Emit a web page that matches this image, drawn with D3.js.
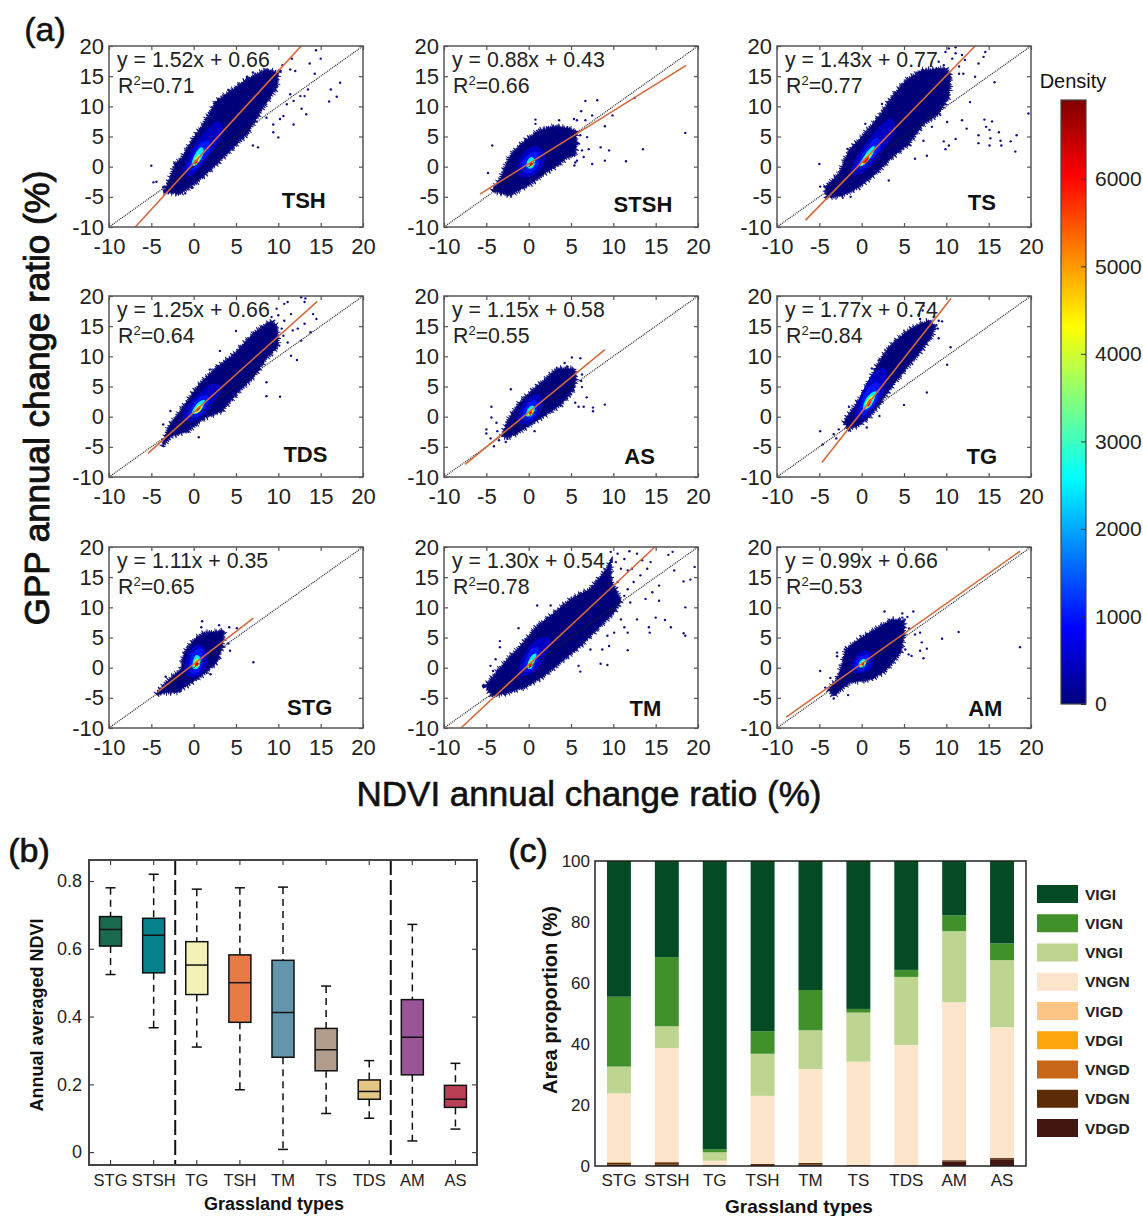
<!DOCTYPE html>
<html>
<head>
<meta charset="utf-8">
<script src="https://cdn.jsdelivr.net/npm/d3@7"></script>
<style>
body { margin: 0; background: #fff; }
text { font-family: "Liberation Sans", Arial, sans-serif; fill: #222; }
</style>
</head>
<body>
<svg id="chart"></svg>
<script>
// Panel (a): values, all in percent
const scatterTicks = [-10, -5, 0, 5, 10, 15, 20];
const panelNames = ["TSH", "STSH", "TS", "TDS", "AS", "TG", "STG", "TM", "AM"];
const equations = ["y = 1.52x + 0.66", "y = 0.88x + 0.43", "y = 1.43x + 0.77", "y = 1.25x + 0.66", "y = 1.15x + 0.58", "y = 1.77x + 0.74", "y = 1.11x + 0.35", "y = 1.30x + 0.54", "y = 0.99x + 0.66"];
const r2Values = ["0.71", "0.66", "0.77", "0.64", "0.55", "0.84", "0.65", "0.78", "0.53"];
const labelSpots = [[13, -6.9], [13.5, -7.5], [14.2, -7.2], [13.2, -7.5], [13.1, -7.9], [14.2, -7.9], [13.7, -7.9], [13.8, -8], [14.6, -8]];
const fitLines = [
    [[-6.9, -10], [12.7, 20]], [[-5.75, -4.55], [18.6, 16.8]], [[-6.65, -8.9], [13.4, 20]],
    [[-5.4, -6.1], [14.6, 19.1]], [[-7.5, -7.9], [9, 11.1]], [[-4.7, -7.6], [10.55, 19.6]],
    [[-4.25, -4], [7.05, 8.2]], [[-8, -10], [14.9, 20]], [[-8.9, -8.2], [18.7, 19.3]]
];

// Outline of the dense part of each cloud
const tshCloud = [[-3.2, -3.4], [-2.2, 0.4], [-1.4, 1.5], [0, 4.8], [1.1, 7], [2.7, 10.9], [4.3, 12.5], [6.3, 14.5], [8.6, 16.1], [10, 15.6], [9.8, 13.1], [8.2, 9.8], [6.3, 5.4], [4.7, 3.2], [2.3, -0.1], [0.35, -2.6], [-1.6, -4.5], [-3.6, -4.2]];
const stshCloud = [[-4.3, -4], [-3.3, -1.8], [-2.3, 1.6], [-1.3, 3.2], [-0.2, 4.6], [1.2, 6], [3, 6.7], [4.6, 6.4], [5.5, 6], [5.7, 3.8], [5.4, 1.8], [4.6, 1.6], [3.4, 0.2], [1.8, -1.2], [0.2, -2.9], [-1.3, -4], [-2.1, -4.8], [-3.5, -4.3]];
const tsCloud = [[-4.1, -5.1], [-4.3, -3.4], [-2.7, -1.2], [-1.5, 2.7], [0, 4.9], [2, 8.2], [3.6, 11.6], [5.2, 14.3], [7.1, 16], [9.9, 16.3], [10.5, 15.4], [10.3, 11.6], [9.1, 8.8], [7.1, 6.8], [5.6, 3.8], [3.6, 1.6], [1.6, -1.2], [-0.35, -3.4], [-2.3, -4.8]];
const tdsCloud = [[-3.7, -4.9], [-3, -1.8], [-1.45, 1.2], [0.5, 5.1], [2.5, 7.9], [4.8, 10.4], [7.2, 14], [9.2, 15.9], [9.8, 15.1], [10, 11.8], [8.4, 9.3], [7.2, 6.8], [5.2, 4], [3.3, 0.9], [1.3, -0.2], [-0.7, -2.4], [-2.6, -3.2]];
const asCloud = [[-3.1, -3.2], [-2.5, -0.7], [-1.1, 2.3], [0.6, 4.6], [2.2, 6.5], [3.4, 8], [5.35, 8], [5.6, 6.8], [5.35, 4.6], [3.8, 2], [1.8, 0.1], [0.2, -1.3], [-1.3, -2.7], [-2.5, -3.5]];
const tgCloud = [[-2.1, -1], [-1.5, 0.4], [0, 3.4], [0.8, 5.7], [1.8, 8.4], [3.2, 11.5], [5.2, 14], [6.5, 15.1], [7.9, 15.9], [8.7, 15.1], [8.3, 13.4], [6.9, 10.7], [5.2, 7.9], [3.6, 5.1], [2.2, 2.3], [1, 0.1], [-0.2, -1.3], [-1.5, -2.1]];
const stgCloud = [[-4.45, -4.4], [-3.1, -2.2], [-1.5, -0.3], [-1.1, 2.5], [0.1, 4.7], [1.25, 5.8], [3.6, 6.1], [3.4, 3.6], [2.8, 1.1], [1.45, -0.8], [-0.3, -2.5], [-1.9, -4], [-3.5, -4.2]];
const tmCloud = [[-5.1, -3.05], [-4.3, -4.7], [-2.5, -4.2], [-0.15, -3.05], [1.8, -1.4], [4.2, 1.4], [6.1, 3.6], [8.1, 6.4], [10.1, 9.2], [10.9, 11.1], [9.7, 14.7], [9.7, 17.5], [8.9, 15.8], [7.3, 13.1], [5, 11.4], [2.6, 8.6], [1, 6.9], [-0.95, 3.6], [-2.5, 1.4], [-4.5, -1.9]];
const amCloud = [[-3.9, -3.6], [-3.3, -4.7], [-1.5, -2.5], [1.2, -1.9], [2.8, -0.55], [4.6, 2.5], [5, 5.3], [5, 7.8], [3.6, 8], [2, 6.7], [0, 5], [-1.9, 3], [-2.3, 0.55], [-2.9, -1.9]];
const clouds = [tshCloud, stshCloud, tsCloud, tdsCloud, asCloud, tgCloud, stgCloud, tmCloud, amCloud];

// Loose points outside the outline
const tshPoints = [[-5, 0.15], [-4.75, -2.6], [-4.4, -2.5], [-3.6, -3.4], [-3.4, -4.2], [-1, -4.4], [-0.2, -3.5], [14.45, 19.3], [15, 17.9], [13.7, 17.1], [14.3, 15.4], [11.6, 17.9], [12, 15.85], [11.4, 16.1], [10.5, 16.8], [17.3, 13.9], [16.2, 12.8], [16.9, 11.6], [16, 10.8], [13.3, 8.7], [12.75, 9.6], [11.8, 7], [10.6, 8.4], [11.8, 10.9], [12.6, 11.7], [11, 10.35], [10, 4.85], [9.4, 5.7], [9.4, 7], [7.6, 3.2], [7, 3.5], [6, 5.7], [13.1, 11.7], [13.5, 12.8], [11.4, 12], [10.2, 7.9], [8.6, 8.1], [7, 15.6], [6.3, 14.9], [4.1, 12.7], [2.9, 11.2]];
const stshPoints = [[-4.3, 3.5], [-4.8, -1.05], [6.7, 10.9], [8.1, 11], [12.5, 11.4], [9.9, 8.5], [6.2, 9.2], [5.35, 7.9], [7.5, 8.5], [0.8, 7.8], [18.5, 5.6], [13.5, 2.9], [11.5, 0.9], [9.5, 2.7], [8.5, 3.2], [9, 1], [9, 6.7], [6.9, 4.9], [7.1, 2.9], [7.5, 0.45], [6.5, 1.6], [5.7, 1], [6.7, 7.7], [5.7, 7.7], [3.6, 7.7], [2.2, 6.4], [0.8, 7.1], [6.3, 2.7], [5.5, 0.7], [5.4, 0.2], [6.1, 5.2]];
const tsPoints = [[-5, 0.45], [-4.9, -3.3], [0.43, 7.1], [2.4, 10.4], [-1.3, -5], [6.3, 1.3], [7.7, 1.8], [3.2, -2.3], [11.85, 7.7], [12.4, 6.3], [14.5, 7.8], [15.4, 7.5], [14.7, 6.6], [15.1, 6.1], [16.2, 5.7], [15.2, 4.7], [16.4, 4.3], [17.6, 4.2], [18.3, 5.2], [18.15, 2.5], [16.5, 3.5], [15.1, 3.5], [13.8, 3.9], [13.8, 5.2], [11.1, 4.6], [10.3, 3.5], [9.7, 4.2], [9.9, 2.9], [10.1, 7.4], [12.8, 10.7], [15.7, 14], [13.8, 17.1], [14.6, 19], [14.4, 18.2], [13.4, 14.9], [12, 15.4], [11.5, 16.6], [10.3, 19.6], [11.1, 19.8], [9.9, 19], [10.7, 17.9], [12.2, 17.7], [11.85, 18.5], [9.1, 17.4], [11.5, 15.4], [11.1, 18.8], [9.7, 16.8], [19.7, 8.8], [8.3, 6.6], [7.3, 4.3]];
const tdsPoints = [[-2.75, 0.95], [-3.6, -1.3], [0.6, -3.4], [-0.75, -2.4], [5, 14.2], [3.1, 10.9], [1.9, 7.8], [8.6, 5.7], [8.6, 3.4], [10.2, 3.3], [11.5, 10.1], [12.2, 9.4], [12.7, 12.6], [13.8, 14], [14.5, 16.2], [14.1, 17], [13.1, 19], [12.7, 19.8], [13.2, 19.6], [11.1, 19], [10.7, 18.7], [9.8, 17.9], [10, 16.8], [10.7, 15.9], [11.5, 17], [12.3, 14.6], [13.1, 15.4], [11.7, 14.3], [9.2, 16.5], [8, 14.8], [8.6, 15.4], [10.4, 14.6], [10.6, 13.4], [11.1, 12.3]];
const asPoints = [[-2.1, 4.55], [-4.4, 1.65], [-4.4, -0.15], [-5, -2.1], [-5, -2.8], [-4.5, -3.6], [-4.1, -4.9], [-3.7, -2.4], [-3.8, -1], [-3.5, -3.9], [-2.7, -4.2], [0.7, -2.4], [9, 2], [7.6, 1.5], [7.6, 0.9], [6.85, 3.2], [6.5, 1.65], [5.9, 1.65], [5.5, 2.3], [5, 3.7], [6.3, 4.9], [6.2, 5.9], [6.3, 7], [4.25, 8.9], [5.1, 9.8], [6.1, 9.7], [4.6, 8.3]];
const tgPoints = [[-4.9, -2.4], [-4.6, -4.6], [-3.3, -2.9], [-2.7, -2.1], [-3, -3.6], [-1.5, 1.65], [1.2, 8], [2, 9.3], [3.6, 11.7], [5, 1.95], [7.7, 4], [10.1, 8.6], [10.5, 11.5], [9.1, 13], [9, 14.6], [9.5, 15.8], [9.1, 15.9], [8.5, 16.5], [6.9, 16.2], [6.7, 16.9], [7.3, 18.4], [7.2, 17.6], [2.1, 0.1], [0.6, -1.8]];
const stgPoints = [[7.05, 0.9], [1, 7.7], [0.9, 6.7], [3, 7.05], [4.2, 6.7], [5.1, 6.55], [4.1, 4], [4.3, 2.8], [-0.7, 3.5], [-3.3, -1.5], [-1.6, -3.9], [2, -1.1]];
const tmPoints = [[-3.4, 4.4], [-3.4, 3.4], [-3.9, 1.4], [-4.5, 0.3], [-4.2, -0.55], [1, 10.3], [2.6, 10.3], [-1.2, 6.55], [11.7, 2.9], [8.5, 0.65], [9.3, 0.45], [6.1, -0.65], [5.9, 0.3], [18.5, 10], [18.5, 5.3], [18.3, 5.7], [16.8, 6.7], [16.1, 7.9], [15.4, 11.1], [15, 8.3], [14.2, 6.7], [14.3, 5.8], [13.8, 11.4], [14.6, 12.5], [15.4, 13.6], [18.3, 14.3], [19.1, 14.6], [19.6, 16.7], [17.2, 16.1], [17, 19.2], [16.5, 18.7], [14.4, 17.5], [14, 16.4], [13.4, 17.8], [12.8, 18.9], [11.9, 19.3], [10.5, 18.9], [9.7, 19.2], [11.3, 18], [12.2, 16.4], [13.2, 15.3], [12.4, 14.2], [11.7, 13], [11.3, 11.9], [12, 10.8], [12.8, 8], [11.3, 6.7], [10.9, 8], [11.7, 5.8], [9.5, 3.6], [9.3, 5.3], [10.1, 5.8], [8.7, 3], [7.3, 3], [10.3, 17.5], [10.9, 16.4], [9.7, 15.8], [10.5, 14.2], [11.7, 16.1]];
const amPoints = [[-4.9, -0.55], [-3.7, -1.7], [-2.9, 2.5], [-2.9, 1.9], [2.7, 9.3], [4.8, 9], [4.8, 8.3], [5.4, 8.4], [6.1, 9.3], [5.6, 6.5], [6.3, 5.5], [6.9, 5.8], [7.1, 4.2], [7.7, 3.15], [6.9, 2.8], [7.3, 1.55], [9.5, 4.8], [11.45, 5.9], [18.7, 3.4], [5.9, 1.95], [5.55, 2.2], [5.15, 3], [-1.6, -4.55], [-3.3, -5.1], [-4.3, -3.3]];
const loosePoints = [tshPoints, stshPoints, tsPoints, tdsPoints, asPoints, tgPoints, stgPoints, tmPoints, amPoints];

// Hot centre of each cloud, one ring per density level
const heatLevels = [450, 1000, 2500, 4000, 6000];
const tshHeat = [[[-1.2, -1], [-0.8, 1.2], [0.2, 3.8], [1.5, 6], [3, 7.5], [3.5, 6], [2.2, 2.5], [0.8, 0], [-0.3, -1.5]], [[-0.8, -0.3], [-0.2, 1.5], [0.6, 3.6], [1.7, 4.3], [1.9, 2.6], [0.8, 0.4], [0, -0.6]], [[-0.2, 0.3], [0.1, 1.9], [0.9, 3.2], [1.2, 2.6], [0.7, 0.9], [0.1, 0.1]], [[0, 0.4], [0.15, 1.4], [0.7, 2], [0.7, 1.2], [0.3, 0.4]], [[0.05, 0.5], [0.15, 1.1], [0.45, 1.2], [0.4, 0.6]]];
const stshHeat = [[[-1.2, -1.5], [-1.2, 0.8], [-0.4, 2.6], [1, 3.4], [1.9, 2.2], [1.6, 0], [0.4, -1.6]], [[-0.7, -0.8], [-0.7, 0.8], [0, 2], [0.9, 2.5], [1.3, 1.3], [1, -0.1], [0.2, -1]], [[-0.2, -0.2], [-0.2, 0.8], [0.3, 1.6], [0.7, 1.2], [0.7, 0.3], [0.3, -0.3]], [[0, 0.05], [0, 0.7], [0.3, 1], [0.55, 0.7], [0.5, 0.2], [0.2, -0.05]], [[0.1, 0.2], [0.1, 0.6], [0.3, 0.8], [0.45, 0.55], [0.35, 0.2]]];
const tsHeat = [[[-1.2, -1.2], [-0.8, 1.2], [0.5, 3.8], [2, 6.5], [3.5, 8], [4, 6.5], [2.8, 3.2], [1.2, 0.3], [-0.2, -1.2]], [[-0.6, -0.3], [-0.2, 1.3], [0.7, 3.3], [1.8, 4.8], [2.3, 4], [1.7, 2], [0.6, 0.2], [-0.1, -0.4]], [[-0.3, 0.2], [0.1, 1.3], [0.9, 2.9], [1.5, 3.4], [1.4, 2.3], [0.6, 0.7], [0, 0.1]], [[-0.1, 0.3], [0.2, 1.2], [0.9, 2.3], [1.2, 2.4], [0.9, 1.4], [0.3, 0.4]], [[0.1, 0.6], [0.3, 1.2], [0.8, 1.8], [0.85, 1.4], [0.4, 0.6]]];
const tdsHeat = [[[-1.2, -0.5], [-0.8, 1.6], [0.6, 3.8], [2.3, 5.5], [3.2, 5], [2.6, 2.8], [1.2, 0.3], [-0.2, -0.8]], [[-0.6, 0.1], [-0.2, 1.7], [0.7, 3.2], [1.6, 3.6], [1.8, 2.6], [1, 0.6], [0, -0.2]], [[-0.2, 0.5], [0.1, 1.6], [0.8, 2.6], [1.3, 2.7], [1.1, 1.6], [0.5, 0.6]], [[0, 0.7], [0.3, 1.5], [0.9, 2.1], [1, 1.6], [0.5, 0.7]], [[0.2, 0.9], [0.4, 1.4], [0.8, 1.8], [0.75, 1.3], [0.4, 0.9]]];
const asHeat = [[[-1.3, -1], [-1.1, 0.9], [-0.2, 2.8], [1, 3.7], [1.7, 2.6], [1.2, 0.4], [0, -1.1]], [[-0.8, -0.4], [-0.6, 1], [0.1, 2.4], [0.9, 2.6], [1, 1.4], [0.6, 0], [-0.1, -0.6]], [[-0.3, 0.1], [-0.2, 1], [0.3, 1.8], [0.7, 1.6], [0.6, 0.6], [0.2, 0]], [[-0.1, 0.2], [0, 0.9], [0.4, 1.4], [0.55, 1.1], [0.4, 0.4]], [[0.05, 0.4], [0.1, 0.9], [0.4, 1.1], [0.4, 0.7], [0.25, 0.4]]];
const tgHeat = [[[-0.8, -0.2], [-0.5, 2.2], [0.4, 5], [1.6, 7.5], [2.8, 8], [3, 6], [2.2, 3], [1.1, 0.6], [0, -0.5]], [[-0.2, 0.6], [0, 2.6], [0.7, 4.6], [1.8, 5.8], [2.2, 4.6], [1.8, 2.6], [0.9, 0.9], [0.2, 0.2]], [[0.2, 1.2], [0.4, 2.7], [1.1, 3.9], [1.7, 4.2], [1.5, 2.9], [0.9, 1.5]], [[0.4, 1.5], [0.6, 2.6], [1.1, 3.4], [1.45, 3.4], [1.1, 2.3], [0.7, 1.5]], [[0.6, 1.8], [0.8, 2.6], [1.15, 3], [1.1, 2.3], [0.8, 1.7]]];
const stgHeat = [[[-0.9, -1.2], [-1, 0.9], [-0.4, 3], [0.8, 3.9], [1.6, 2.4], [1.4, 0], [0.3, -1.5]], [[-0.4, -0.7], [-0.5, 1], [0, 2.7], [0.9, 3.2], [1.1, 1.6], [0.9, 0], [0.2, -1]], [[-0.1, -0.1], [-0.1, 1], [0.3, 2.1], [0.7, 1.8], [0.8, 0.7], [0.4, -0.2]], [[0.05, 0.1], [0.05, 0.9], [0.4, 1.5], [0.65, 1.1], [0.6, 0.4], [0.3, 0.05]], [[0.15, 0.3], [0.2, 0.9], [0.45, 1.1], [0.55, 0.7], [0.35, 0.3]]];
const tmHeat = [[[-1.1, -1.1], [-0.9, 1], [0, 3.4], [1.5, 5], [2.5, 4.8], [2, 2], [0.9, -0.4], [-0.2, -1.3]], [[-0.6, -0.5], [-0.4, 1.2], [0.3, 3], [1.1, 3.4], [1.1, 1.8], [0.6, -0.1], [-0.1, -0.7]], [[-0.15, -0.1], [-0.05, 1], [0.5, 2.2], [0.9, 2.3], [0.7, 1], [0.25, -0.2]], [[-0.05, 0], [0, 0.8], [0.4, 1.4], [0.45, 0.6], [0.2, 0]], [[0.05, 0.1], [0.1, 0.7], [0.35, 0.8], [0.3, 0.2]]];
const amHeat = [[[-1.1, -0.8], [-1.1, 0.9], [-0.4, 2.3], [0.8, 2.8], [1.4, 1.6], [1, -0.3], [-0.2, -0.9]], [[-0.7, -0.3], [-0.7, 0.9], [-0.1, 1.8], [0.7, 2.1], [0.9, 1.1], [0.5, -0.1], [-0.1, -0.5]], [[-0.3, 0.1], [-0.3, 0.8], [0.1, 1.4], [0.5, 1.3], [0.5, 0.5], [0.1, 0]], [[-0.15, 0.2], [-0.1, 0.8], [0.2, 1.15], [0.4, 0.9], [0.3, 0.4]], [[0, 0.35], [0, 0.8], [0.25, 0.95], [0.3, 0.6], [0.15, 0.35]]];
const heats = [tshHeat, stshHeat, tsHeat, tdsHeat, asHeat, tgHeat, stgHeat, tmHeat, amHeat];

const densityTicks = [0, 1000, 2000, 3000, 4000, 5000, 6000];
const jetColors = ["#00007f", "#0000ff", "#00ffff", "#ffff00", "#ff0000", "#7f0000"];
const jetStops = [0, 0.125, 0.375, 0.625, 0.875, 1];

// Panel (b): whisker low, q1, median, q3, whisker high
const boxTypes = ["STG", "STSH", "TG", "TSH", "TM", "TS", "TDS", "AM", "AS"];
const boxLow = [0.524, 0.367, 0.31, 0.184, 0.008, 0.114, 0.1, 0.033, 0.068];
const boxQ1 = [0.608, 0.529, 0.465, 0.383, 0.28, 0.24, 0.156, 0.228, 0.132];
const boxMedian = [0.657, 0.64, 0.552, 0.5, 0.412, 0.302, 0.179, 0.339, 0.156];
const boxQ3 = [0.695, 0.69, 0.621, 0.582, 0.566, 0.365, 0.213, 0.45, 0.197];
const boxHigh = [0.78, 0.82, 0.776, 0.78, 0.782, 0.49, 0.27, 0.672, 0.262];
const boxColors = ["#1b6a50", "#05818c", "#f3f1b8", "#e87b45", "#6396ad", "#b29c8b", "#e3c686", "#9a5598", "#b83f55"];
const boxTicks = [0, 0.2, 0.4, 0.6, 0.8];

// Panel (c): stacked from the bottom up, in percent
const stackKeys = ["VDGD", "VDGN", "VNGD", "VDGI", "VIGD", "VNGN", "VNGI", "VIGN", "VIGI"];
const legendKeys = ["VIGI", "VIGN", "VNGI", "VNGN", "VIGD", "VDGI", "VNGD", "VDGN", "VDGD"];
const stackColors = ["#431710", "#5c2c08", "#c8661a", "#ffa60f", "#fdc586", "#fde5cc", "#bdd591", "#41902c", "#034a25"];
const vdgd = [0.5, 0.5, 0.05, 0.3, 0.5, 0.1, 0.05, 1.5, 2.2];
const vdgn = [0.5, 0.7, 0.1, 0.4, 0.5, 0.2, 0.05, 0.4, 0.4];
const vngd = [0.2, 0.2, 0.05, 0, 0, 0, 0, 0, 0];
const vdgi = [0, 0, 0, 0, 0, 0, 0, 0, 0];
const vigd = [0.1, 0, 0, 0, 0, 0, 0, 0, 0];
const vngn = [22.5, 37.3, 1.55, 22.3, 30.8, 33.9, 39.6, 51.8, 42.9];
const vngi = [8.8, 7.1, 2.75, 13.8, 12.7, 16.1, 22.3, 23.3, 22];
const vign = [22.9, 22.7, 1, 7.4, 13.2, 1.2, 2.3, 5.2, 5.5];
const vigi = [44.5, 31.5, 94.5, 55.8, 42.3, 48.5, 35.7, 17.8, 27];
const stackTicks = [0, 20, 40, 60, 80, 100];

const width = 1143;
const height = 1216;
const svg = d3.select("#chart").attr("width", width).attr("height", height);
const defs = svg.append("defs");
defs.append("filter").attr("id", "soft").append("feGaussianBlur").attr("stdDeviation", 0.4);
defs.append("filter").attr("id", "softer").attr("x", "-50%").attr("y", "-50%").attr("width", "200%").attr("height", "200%")
    .append("feGaussianBlur").attr("stdDeviation", 0.5);

const densityColor = d3.scaleLinear()
    .domain(jetStops.map(d => d * 6900))
    .range(jetColors);

// Inward ticks on all four sides plus the frame
const drawFrame = (g, x, y, xTicks, yTicks, opts) => {
    const [x0, x1] = x.range();
    const [y0, y1] = y.range();
    const axes = [
        [d3.axisBottom(x).tickValues(xTicks), y0, 0, opts.xPadding, opts.xFormat],
        [d3.axisTop(x).tickValues(xTicks).tickFormat(""), y1, 0, 0, null],
        [d3.axisLeft(y).tickValues(yTicks), 0, x0, opts.yPadding, opts.yFormat],
        [d3.axisRight(y).tickValues(yTicks).tickFormat(""), 0, x1, 0, null]
    ];
    axes.forEach(([axis, ty, tx, padding, format]) => {
        if (format) axis.tickFormat(format);
        g.append("g")
            .attr("transform", `translate(${tx},${ty})`)
            .call(axis.tickSize(-opts.tick).tickPadding(padding))
            .call(a => a.select(".domain").remove())
            .call(a => a.selectAll(".tick line").attr("stroke", opts.color).attr("stroke-width", 1.2))
            .call(a => a.selectAll(".tick text").style("font-family", "Liberation Sans").attr("fill", "#222"));
    });
    g.append("rect")
        .attr("x", x0).attr("y", y1)
        .attr("width", x1 - x0).attr("height", y0 - y1)
        .attr("fill", "none")
        .attr("stroke", opts.color)
        .attr("stroke-width", opts.frame);
};

// Scatter panels
const columnLeft = [109, 444, 777];
const rowTop = [46, 296, 547];
const plotWidth = 254;
const plotHeight = 181;

const cloudLine = d3.line().curve(d3.curveLinearClosed);
const heatLine = d3.line().curve(d3.curveCatmullRomClosed);
// Wider, sparser strokes break up the edge of the cloud
const fringes = [
    { width: 6.5, dash: "0.9 5.3 1.1 3.1 0.8 7.1" },
    { width: 4, dash: "1 2.3 1.3 1.1 0.9 3.7" },
    { width: 2, dash: "1.4 0.9" }
];

panelNames.forEach((name, i) => {
    const left = columnLeft[i % 3];
    const top = rowTop[Math.floor(i / 3)];
    const x = d3.scaleLinear([-10, 20], [left, left + plotWidth]);
    const y = d3.scaleLinear([-10, 20], [top + plotHeight, top]);
    const g = svg.append("g");

    const marks = g.append("g").attr("filter", "url(#soft)");
    const project = pts => pts.map(d => [x(d[0]), y(d[1])]);

    marks.append("path")
        .attr("d", cloudLine(project(clouds[i])))
        .attr("fill", "#00007a");

    marks.selectAll("path.fringe")
        .data(fringes)
        .join("path")
        .attr("class", "fringe")
        .attr("d", cloudLine(project(clouds[i])))
        .attr("fill", "none")
        .attr("stroke", "#0a0a80")
        .attr("stroke-width", d => d.width)
        .attr("stroke-dasharray", d => d.dash);

    marks.selectAll("circle")
        .data(loosePoints[i])
        .join("circle")
        .attr("cx", d => x(d[0]))
        .attr("cy", d => y(d[1]))
        .attr("r", 1.2)
        .attr("fill", "#10108a");

    g.append("g").attr("filter", "url(#softer)")
        .selectAll("path")
        .data(heats[i])
        .join("path")
        .attr("d", d => heatLine(project(d)))
        .attr("fill", (d, j) => densityColor(heatLevels[j]));

    // 1:1 reference
    g.append("path")
        .attr("d", d3.line()([[x(-10), y(-10)], [x(20), y(20)]]))
        .attr("stroke", "#222")
        .attr("stroke-width", 1.2)
        .attr("stroke-dasharray", "1 1")
        .attr("fill", "none");

    g.append("path")
        .attr("d", d3.line()(project(fitLines[i])))
        .attr("stroke", "#d4693c")
        .attr("stroke-width", 1.6)
        .attr("fill", "none");

    drawFrame(g, x, y, scatterTicks, scatterTicks, {
        tick: 4, xPadding: 11, yPadding: 5, color: "#555", frame: 1.5,
        xFormat: d => String(d), yFormat: d => String(d)
    });
    g.selectAll(".tick text").attr("font-size", 22);

    g.append("text")
        .attr("x", left + 8).attr("y", top + 21)
        .attr("font-size", 21.3)
        .text(equations[i]);

    const r2 = g.append("text")
        .attr("x", left + 9).attr("y", top + 47)
        .attr("font-size", 21.3);
    r2.append("tspan").text("R");
    r2.append("tspan").attr("font-size", 13).attr("dy", -8).text("2");
    r2.append("tspan").attr("dy", 8).text("=" + r2Values[i]);

    g.append("text")
        .attr("x", x(labelSpots[i][0])).attr("y", y(labelSpots[i][1]))
        .attr("text-anchor", "middle")
        .attr("font-size", 22)
        .attr("font-weight", "bold")
        .style("fill", "#111")
        .text(name);
});

const addText = (str, px, py, size, weight, opts = {}) => {
    const t = svg.append("text")
        .attr("transform", `translate(${px},${py}) rotate(${opts.rotate || 0})`)
        .attr("text-anchor", opts.anchor || "middle")
        .attr("font-size", size)
        .attr("font-weight", weight)
        .style("fill", "#111")
        .text(str);
    if (opts.stroke) t.style("stroke", "#111").style("stroke-width", opts.stroke);
    return t;
};

addText("(a)", 45, 41, 34, "normal", { stroke: 0.5 });
addText("GPP annual change ratio (%)", 49, 398, 35, "normal", { rotate: -90, stroke: 0.9 });
addText("NDVI annual change ratio (%)", 589, 806, 35, "normal", { stroke: 0.6 });

// Colour bar
const barY = d3.scaleLinear([0, 6900], [704, 100]);
const barGradient = defs.append("linearGradient")
    .attr("id", "jet")
    .attr("x1", 0).attr("x2", 0).attr("y1", 1).attr("y2", 0);
barGradient.selectAll("stop")
    .data(jetStops)
    .join("stop")
    .attr("offset", d => d)
    .attr("stop-color", (d, i) => jetColors[i]);

svg.append("rect")
    .attr("x", 1061).attr("y", barY(6900))
    .attr("width", 25).attr("height", barY(0) - barY(6900))
    .attr("fill", "url(#jet)")
    .attr("stroke", "#444")
    .attr("stroke-width", 1.2);

svg.append("g")
    .attr("transform", "translate(1086,0)")
    .call(d3.axisRight(barY).tickValues(densityTicks).tickSize(-5).tickPadding(9).tickFormat(d3.format("d")))
    .call(a => a.select(".domain").remove())
    .call(a => a.selectAll(".tick line").attr("stroke", "#333"))
    .call(a => a.selectAll(".tick text").style("font-family", "Liberation Sans").attr("font-size", 21).attr("fill", "#222"));

addText("Density", 1073, 88, 20, "normal");

// Box plot
const boxX = d3.scaleBand(boxTypes, [89, 477]);
const boxY = d3.scaleLinear([-0.038, 0.862], [1165, 860]);
const boxPlot = svg.append("g");
const boxWidth = 22;
const capWidth = 10;

boxTypes.forEach((type, i) => {
    const cx = boxX(type) + boxX.bandwidth() / 2;
    const g = boxPlot.append("g");
    const whisker = (from, to) => g.append("line")
        .attr("x1", cx).attr("x2", cx)
        .attr("y1", boxY(from)).attr("y2", boxY(to))
        .attr("stroke", "#111").attr("stroke-width", 1.5).attr("stroke-dasharray", "7 5");
    whisker(boxHigh[i], boxQ3[i]);
    whisker(boxQ1[i], boxLow[i]);
    [boxLow[i], boxHigh[i]].forEach(v => g.append("line")
        .attr("x1", cx - capWidth / 2).attr("x2", cx + capWidth / 2)
        .attr("y1", boxY(v)).attr("y2", boxY(v))
        .attr("stroke", "#111").attr("stroke-width", 1.5));
    g.append("rect")
        .attr("x", cx - boxWidth / 2).attr("y", boxY(boxQ3[i]))
        .attr("width", boxWidth).attr("height", boxY(boxQ1[i]) - boxY(boxQ3[i]))
        .attr("fill", boxColors[i])
        .attr("stroke", "#111").attr("stroke-width", 1.5);
    g.append("line")
        .attr("x1", cx - boxWidth / 2).attr("x2", cx + boxWidth / 2)
        .attr("y1", boxY(boxMedian[i])).attr("y2", boxY(boxMedian[i]))
        .attr("stroke", "#111").attr("stroke-width", 1.5);
});

// Dashed dividers between the climate groups
["TG", "AM"].forEach(type => boxPlot.append("line")
    .attr("x1", boxX(type)).attr("x2", boxX(type))
    .attr("y1", 860).attr("y2", 1165)
    .attr("stroke", "#111").attr("stroke-width", 2).attr("stroke-dasharray", "15 5"));

drawFrame(boxPlot, boxX, boxY, boxTypes, boxTicks, {
    tick: 5, xPadding: 9, yPadding: 7, color: "#444", frame: 2,
    yFormat: d => d === 0 ? "0" : d3.format(".1f")(d)
});
boxPlot.selectAll(".tick text").attr("font-size", 16.5);
boxPlot.selectAll(".tick text").filter(d => boxTicks.includes(d)).attr("font-size", 18);

addText("(b)", 29, 862, 34, "normal", { stroke: 0.7 });
addText("Annual averaged NDVI", 43, 1015, 18, "bold", { rotate: -90 });
addText("Grassland types", 274, 1210, 18, "bold");

// Stacked bars
const stackX = d3.scaleBand(boxTypes, [595, 1026]).paddingInner(0.5).paddingOuter(0.25);
const stackY = d3.scaleLinear([0, 100], [1166, 861]);
const color = d3.scaleOrdinal(stackKeys, stackColors);
const stackRows = boxTypes.map((type, i) => ({
    type, VDGD: vdgd[i], VDGN: vdgn[i], VNGD: vngd[i], VDGI: vdgi[i], VIGD: vigd[i],
    VNGN: vngn[i], VNGI: vngi[i], VIGN: vign[i], VIGI: vigi[i]
}));
const stackPlot = svg.append("g");

stackPlot.selectAll("g.layer")
    .data(d3.stack().keys(stackKeys)(stackRows))
    .join("g")
    .attr("class", "layer")
    .attr("fill", d => color(d.key))
    .selectAll("rect")
    .data(d => d)
    .join("rect")
    .attr("x", d => stackX(d.data.type))
    .attr("y", d => stackY(d[1]))
    .attr("width", stackX.bandwidth())
    .attr("height", d => stackY(d[0]) - stackY(d[1]));

const stackXAxis = d3.axisBottom(stackX).tickSize(0).tickPadding(8);
stackPlot.append("g")
    .attr("transform", "translate(0,1166)")
    .call(stackXAxis)
    .call(a => a.select(".domain").remove())
    .call(a => a.selectAll(".tick text").style("font-family", "Liberation Sans").attr("font-size", 17).attr("fill", "#222"));
stackPlot.append("g")
    .attr("transform", "translate(595,0)")
    .call(d3.axisLeft(stackY).tickValues(stackTicks).tickSize(0).tickPadding(5))
    .call(a => a.select(".domain").remove())
    .call(a => a.selectAll(".tick text").style("font-family", "Liberation Sans").attr("font-size", 17).attr("fill", "#222"));
stackPlot.append("rect")
    .attr("x", 595).attr("y", 861)
    .attr("width", 431).attr("height", 305)
    .attr("fill", "none").attr("stroke", "#222").attr("stroke-width", 1.5);

const legendY = d3.scalePoint(legendKeys, [894, 1128]);
const legend = svg.append("g");
legend.selectAll("rect")
    .data(legendKeys)
    .join("rect")
    .attr("x", 1037).attr("y", d => legendY(d) - 9)
    .attr("width", 41).attr("height", 18)
    .attr("fill", d => color(d));
legend.selectAll("text")
    .data(legendKeys)
    .join("text")
    .attr("x", 1085).attr("y", d => legendY(d) + 5.5)
    .attr("font-size", 15.5)
    .attr("font-weight", "bold")
    .text(d => d);

addText("(c)", 528, 862, 34, "normal", { stroke: 0.7 });
addText("Area proportion (%)", 557, 1000, 20, "bold", { rotate: -90 });
addText("Grassland types", 799, 1213, 19, "bold");
</script>
</body>
</html>
